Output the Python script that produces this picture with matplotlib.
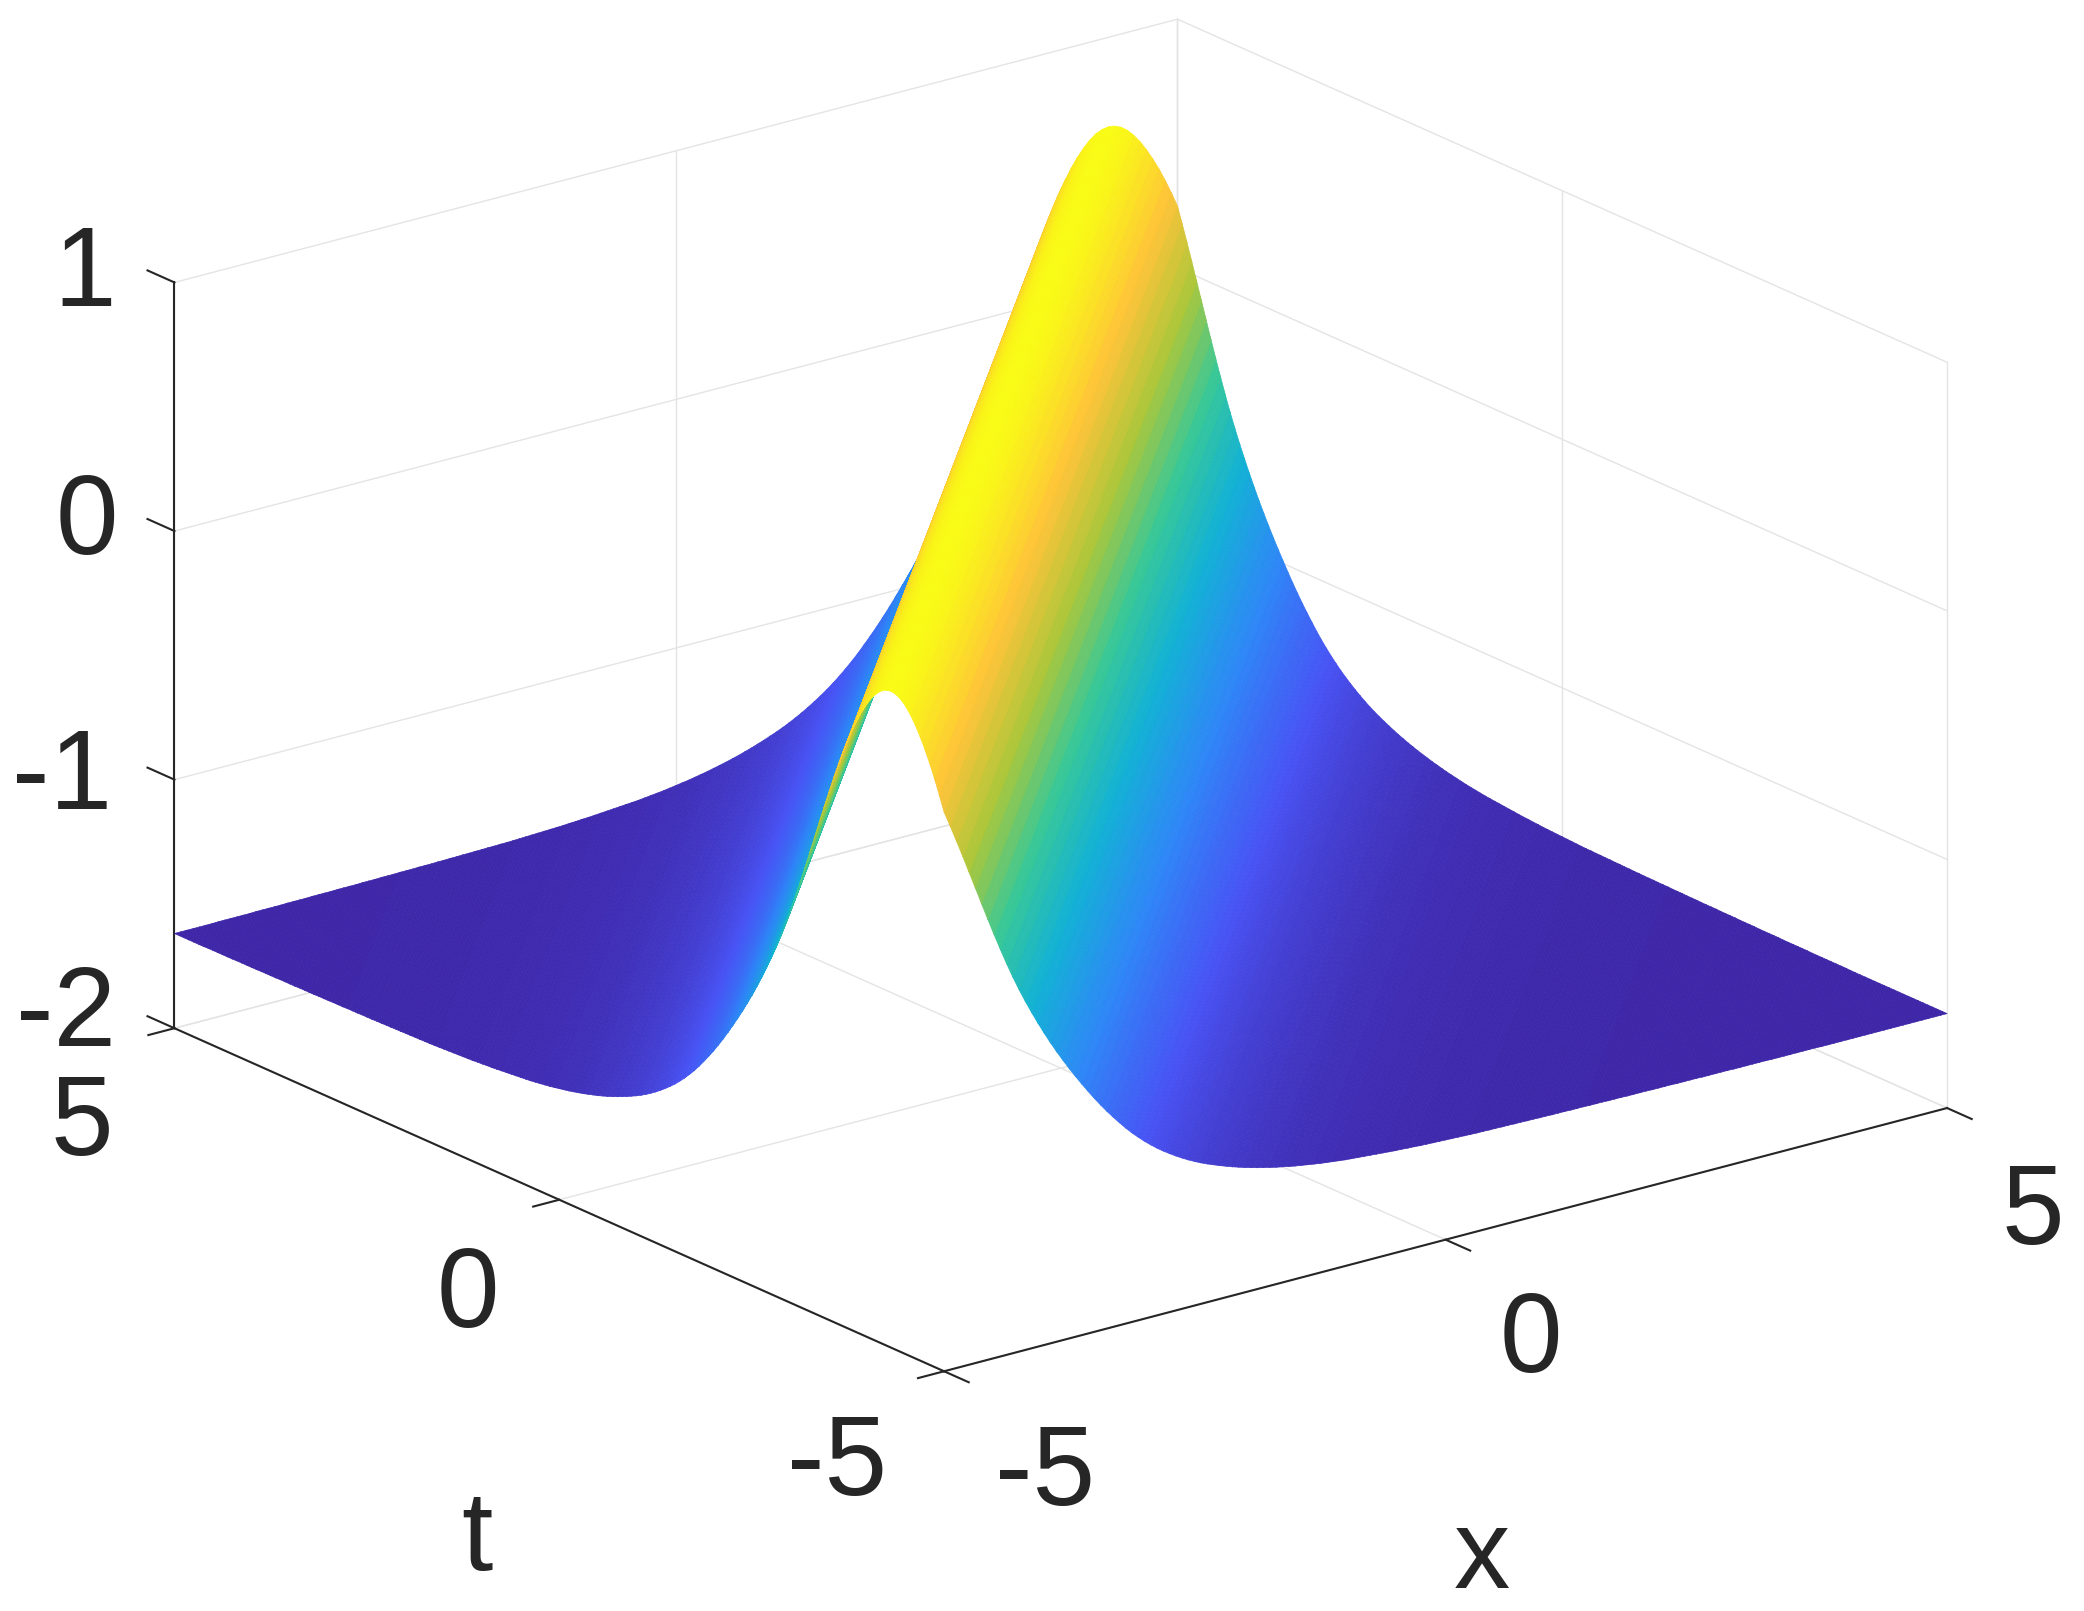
import numpy as np
import matplotlib
matplotlib.use('Agg')
import matplotlib.pyplot as plt
from matplotlib.colors import LinearSegmentedColormap, Normalize
from mpl_toolkits.mplot3d.art3d import Poly3DCollection

plt.rcParams['font.family'] = ['Liberation Sans', 'DejaVu Sans']

# tick values
x_ticks = [-5, 0, 5]
t_ticks = [-5, 0, 5]
z_ticks = [-2, -1, 0, 1]

# grid of the surface
x_grid = np.arange(-80, 81) * 0.0625
t_grid = np.arange(-80, 81) * 0.0625

# height, per 0.0625 step away from the ridge line x - t = -0.6875
ridge_steps = -11
z_profile = [
    0.640, 0.636, 0.625, 0.606, 0.580, 0.548, 0.510, 0.467,
    0.420, 0.367, 0.310, 0.249, 0.185, 0.118, 0.050, -0.020,
    -0.090, -0.160, -0.230, -0.298, -0.364, -0.428, -0.489, -0.546,
    -0.600, -0.651, -0.700, -0.747, -0.792, -0.835, -0.876, -0.916,
    -0.954, -0.991, -1.027, -1.062, -1.095, -1.127, -1.157, -1.186,
    -1.214, -1.240, -1.264, -1.287, -1.308, -1.328, -1.346, -1.363,
    -1.379, -1.394, -1.408, -1.421, -1.433, -1.444, -1.454, -1.464,
    -1.473, -1.482, -1.490, -1.498, -1.505, -1.512, -1.518, -1.524,
    -1.530, -1.535, -1.540, -1.545, -1.549, -1.553, -1.557, -1.561,
    -1.564, -1.567, -1.570, -1.573, -1.575, -1.577, -1.579, -1.581,
    -1.583, -1.585, -1.587, -1.589, -1.590, -1.592, -1.593, -1.595,
    -1.596, -1.597, -1.598, -1.599, -1.600, -1.601, -1.602, -1.603,
    -1.604, -1.604, -1.605, -1.605, -1.606, -1.606, -1.607, -1.607,
    -1.608, -1.608, -1.609, -1.609, -1.610, -1.610, -1.610, -1.611,
    -1.611, -1.611, -1.612, -1.612, -1.612, -1.613, -1.613, -1.613,
    -1.614, -1.614, -1.614, -1.614, -1.615, -1.615, -1.615, -1.615,
    -1.616, -1.616, -1.616, -1.616, -1.617, -1.617, -1.617, -1.617,
    -1.617, -1.618, -1.618, -1.618, -1.618, -1.618, -1.618, -1.619,
    -1.619, -1.619, -1.619, -1.619, -1.619, -1.619, -1.619, -1.620,
    -1.620, -1.620, -1.620, -1.620, -1.620, -1.620, -1.620, -1.620,
    -1.620, -1.620, -1.620, -1.620, -1.620, -1.620, -1.620, -1.620,
    -1.620, -1.620, -1.620, -1.620, -1.620, -1.620, -1.620, -1.620,
]

# parula samples
parula_colors = [
    (0.2422, 0.1504, 0.6603), (0.2810, 0.3228, 0.9579), (0.1786, 0.5289, 0.9682),
    (0.0689, 0.6948, 0.8394), (0.2161, 0.7843, 0.5923), (0.6720, 0.7793, 0.2227),
    (0.9970, 0.7659, 0.2199), (0.9769, 0.9839, 0.0805),
]
parula = LinearSegmentedColormap.from_list('parula', parula_colors, N=256)

W, H = 2084, 1611
S = 1899
left, bottom = 85.6, -59.4

fig = plt.figure(figsize=(W / 100, H / 100), dpi=100, facecolor='white')
ax = fig.add_axes([left / W, bottom / H, S / W, S / H], projection='3d', proj_type='ortho')
ax.set_box_aspect((951, 951, 597))
ax.view_init(elev=20, azim=-127.5)
ax.set_xlim(-5, 5)
ax.set_ylim(-5, 5)
ax.set_zlim(-2, 1)
ax.set_axis_off()
ax.patch.set_alpha(0)

grid_c = '#e4e4e4'
grid_lw = 1.0
for v in x_ticks:
    ax.plot([v, v], [-5, 5], [-2, -2], color=grid_c, lw=grid_lw)
    ax.plot([v, v], [5, 5], [-2, 1], color=grid_c, lw=grid_lw)
for v in t_ticks:
    ax.plot([-5, 5], [v, v], [-2, -2], color=grid_c, lw=grid_lw)
    ax.plot([5, 5], [v, v], [-2, 1], color=grid_c, lw=grid_lw)
for v in z_ticks:
    ax.plot([-5, 5], [5, 5], [v, v], color=grid_c, lw=grid_lw)
    ax.plot([5, 5], [-5, 5], [v, v], color=grid_c, lw=grid_lw)

# axis lines and ticks
axis_c = '#262626'
axis_lw = 1.5
ax.plot([-5, 5], [-5, -5], [-2, -2], color=axis_c, lw=axis_lw)
ax.plot([-5, -5], [-5, 5], [-2, -2], color=axis_c, lw=axis_lw)
ax.plot([-5, -5], [5, 5], [-2, 1], color=axis_c, lw=axis_lw)
for v in x_ticks:
    ax.plot([v, v], [-5, -5.32], [-2, -2], color=axis_c, lw=axis_lw)
for v in t_ticks:
    ax.plot([-5, -5.26], [v, v], [-2, -2], color=axis_c, lw=axis_lw)
for v in z_ticks:
    ax.plot([-5, -5], [5, 5.35], [v, v], color=axis_c, lw=axis_lw)

# surface, height depends only on the distance to the ridge
# each cell is cut along the ridge direction so colour bands stay parallel to it
n = len(x_grid)
verts = []
mean_z = []
for i in range(n - 1):
    for j in range(n - 1):
        corners = [(i, j), (i + 1, j), (i + 1, j + 1)], [(i, j), (i, j + 1), (i + 1, j + 1)]
        for tri in corners:
            pts = [(x_grid[a], t_grid[b], z_profile[abs(a - b - ridge_steps)]) for a, b in tri]
            verts.append(pts)
            mean_z.append((pts[0][2] + pts[1][2] + pts[2][2]) / 3)
colors = parula(Normalize(min(z_profile), max(z_profile))(np.array(mean_z)))
surf = Poly3DCollection(verts, facecolors=colors, edgecolors=colors, linewidths=0.5)
ax.add_collection3d(surf)


def put_text(px, py, s):
    # px is the centre and py the baseline, in picture pixels from the top left
    fig.text(px / W, 1 - py / H, s, fontsize=81, color='#262626', ha='center', va='baseline')


put_text(85, 306, '1')
put_text(87, 554, '0')
put_text(62, 809, '-1')
put_text(66, 1046, '-2')
put_text(82, 1155, '5')
put_text(468, 1327, '0')
put_text(837, 1495, '-5')
put_text(1045, 1505, '-5')
put_text(1531, 1372, '0')
put_text(2033, 1244, '5')
put_text(477, 1570, 't')
put_text(1482, 1588, 'x')

fig.savefig('out.png', dpi=100)
